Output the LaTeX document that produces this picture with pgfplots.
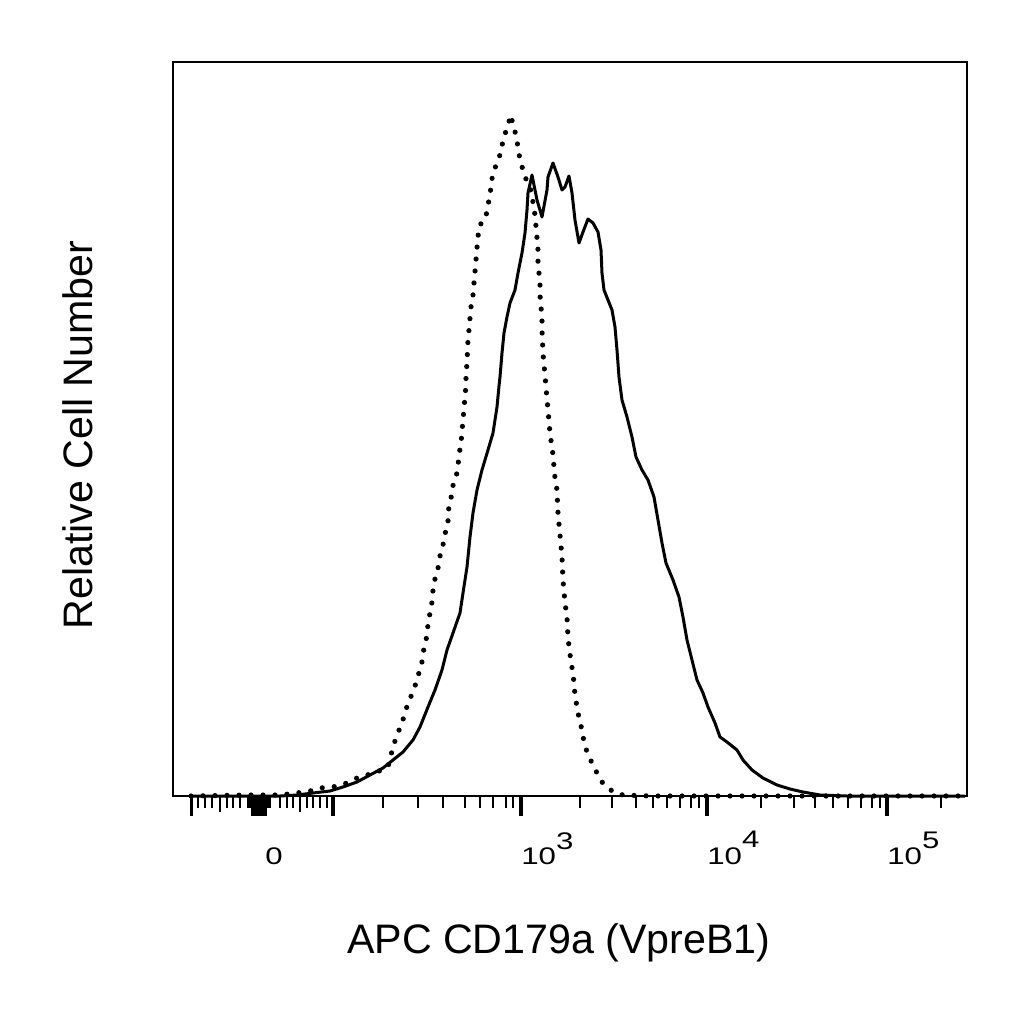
\documentclass[border=0pt]{standalone}
\usepackage{fontspec}
\setmainfont{Liberation Sans}
\usepackage{graphicx}
\usepackage{pgfplots}
\pgfplotsset{compat=1.18}

\newcommand\tl[1]{\scalebox{1.3}[1]{\fontsize{12}{14}\selectfont #1}}

% x and y are in display units of the cytometry plot (biexponential axis)
\pgfplotstableread{
x y
191 0
220 0.5
250 1
280 1
297 3
310 5
320 8
333 9
347 13
357 18
367 21
377 24
388 29
393 49
397 61
402 73
405 83
408 93
413 104
417 116
420 127
423 138
424 149
427 160
428 172
430 183
432 194
433 206
435 217
438 228
440 240
443 251
445 262
448 273
448 284
451 297
452 308
456 318
458 330
459 341
461 353
463 376
466 411
466 421
467 433
468 456
469 466
470 478
471 489
473 501
474 513
475 524
476 536
477 548
478 559
479 570
486 578
487 588
490 599
491 611
493 623
497 633
501 644
503 656
507 668
511 681
513 671
516 661
518 649
520 636
523 626
527 614
532 603
533 593
535 581
536 569
537 558
538 546
538 534
539 523
540 512
540 501
541 489
542 478
542 466
543 443
544 431
545 421
546 409
548 386
550 363
553 341
554 329
555 318
557 306
558 283
560 261
562 239
563 216
565 193
567 179
568 158
571 134
573 123
575 101
577 89
579 78
582 66
584 54
587 44
592 33
597 23
602 14
608 8
615 3
623 1
650 0
965 0
}\isotype

\pgfplotstableread{
x y
191 0
280 0
297 1
313 3
330 5
343 9
357 14
370 21
383 28
393 36
403 44
413 56
420 69
428 89
435 106
442 126
447 146
453 163
460 183
463 203
467 229
470 259
473 283
477 306
482 326
488 346
493 363
497 389
499 410
500 419
502 443
504 463
507 479
510 493
515 506
518 523
522 543
525 563
527 586
528 603
532 621
537 596
542 579
547 606
548 619
553 633
558 619
562 606
565 609
569 620
572 603
575 576
579 553
583 564
588 577
593 573
598 564
601 546
602 523
604 506
608 496
612 486
615 469
617 446
619 419
622 396
627 379
632 359
636 339
642 326
648 316
654 299
658 276
662 253
666 233
673 216
679 199
683 179
687 156
692 136
697 116
703 103
708 89
715 73
720 59
727 54
737 46
743 36
752 26
763 18
777 11
790 7
803 4
820 1
847 0
965 0
}\stained

\begin{document}
\begin{tikzpicture}
\begin{axis}[
  scale only axis,
  width=397pt, height=367pt,
  xmin=173, xmax=967, ymin=0, ymax=734,
  axis line style={line width=1pt},
  ytick=\empty,
  xtick pos=bottom,
  tick align=outside,
  major tick length=10pt,
  minor tick length=6pt,
  major tick style={line width=1.6pt, black},
  minor tick style={line width=1pt, black},
  xtick={191.5,253,256,259,262,265,333,521,707,887},
  xticklabels={,,,,,\tl{0},,\tl{10\raisebox{7.5pt}{3}},\tl{10\raisebox{8.5pt}{4}},\tl{10\raisebox{8pt}{5}}},
  minor xtick={198.3,205,211.7,226.7,233.3,240,248,250,268,270,280,286.7,293.3,306.7,313.3,320,326.7,
    383,418,443,465,480,493,506,513,
    580,612,636,653,667,680,691,699,
    761,794,815,833,848,861,872,880,941},
  extra x ticks={220,300},
  extra x tick labels={},
  extra x tick style={major tick length=8pt, major tick style={line width=1pt}},
  xticklabel style={anchor=base west, inner sep=0pt, yshift=-24pt},
  ylabel={Relative Cell Number},
  xlabel={APC CD179a (VpreB1)},
  label style={font=\fontsize{20.6}{24}\selectfont},
  ylabel style={at={(axis description cs:-0.1008,0.4918)}, anchor=base},
  xlabel style={at={(axis description cs:0.486,-0.2139)}, anchor=base},
  clip=false,
]
\addplot[black, line width=2.6pt, line cap=round, dash pattern=on 0pt off 6pt] table[x=x, y=y] {\isotype};
\addplot[black, line width=1.5pt, line join=round] table[x=x, y=y] {\stained};
\end{axis}
\pgfresetboundingbox
\path[use as bounding box] (-86.5pt,-114pt) rectangle (425.5pt,398pt);
\end{tikzpicture}
\end{document}
